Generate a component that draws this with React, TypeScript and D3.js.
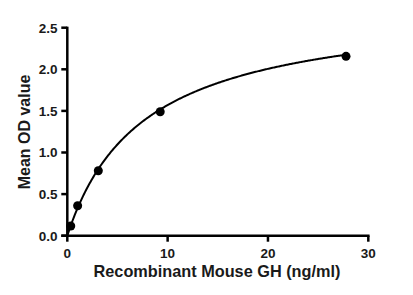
import React, { useMemo } from "react";
import * as d3 from "d3";

const concentrations = [0.343, 1.03, 3.09, 9.26, 27.78];
const meanOD = [0.117, 0.36, 0.78, 1.49, 2.156];
// points (used only to fit its parameters)
const curveReadX = [14.2, 20, 23.2];
const curveReadY = [1.84, 2.024, 2.072];
const xTicks = [0, 10, 20, 30];
const yTicks = [0, 0.5, 1.0, 1.5, 2.0, 2.5];
const xLabel = "Recombinant Mouse GH (ng/ml)";
const yLabel = "Mean OD value";

// 4PL-like fit (bottom fixed at 0) by grid search
function fitCurve() {
  const fx = concentrations.concat(curveReadX);
  const fy = meanOD.concat(curveReadY);
  let best = { b: 1, c: 8, d: 2.8, err: Infinity };
  for (let b = 0.8; b <= 1.6; b += 0.01) {
    for (let c = 3; c <= 15; c += 0.05) {
      for (let d = 2.2; d <= 3.6; d += 0.01) {
        let err = 0;
        for (let i = 0; i < fx.length; i++) {
          const p = Math.pow(fx[i] / c, b);
          const y = (d * p) / (1 + p);
          err += (y - fy[i]) ** 2;
        }
        if (err < best.err) best = { b, c, d, err };
      }
    }
  }
  return best;
}

export default function App() {
  const W = 413, H = 295;
  const x = d3.scaleLinear().domain([0, 30]).range([67.3, 368.3]);
  const y = d3.scaleLinear().domain([0, 2.5]).range([235.7, 27.7]);
  const fit = useMemo(fitCurve, []);
  const f = (v: number) => {
    const p = Math.pow(v / fit.c, fit.b);
    return (fit.d * p) / (1 + p);
  };
  const xs = d3.range(0, 300).map((i) => (i / 299) * concentrations[concentrations.length - 1]);
  const line = d3
    .line<number>()
    .x((v) => x(v))
    .y((v) => y(f(v)));
  const font = "'Liberation Sans', Arial, sans-serif";
  return (
    <svg width={W} height={H} style={{ position: "absolute", left: 0, top: 0, background: "#fff" }}>
      <rect width={W} height={H} fill="#fff" />
      <path d={line(xs) || ""} fill="none" stroke="#000" strokeWidth={2} />
      {concentrations.map((c, i) => (
        <circle key={i} cx={x(c)} cy={y(meanOD[i])} r={4.5} fill="#000" />
      ))}
      {/* Y axis */}
      <line x1={x(0)} x2={x(0)} y1={y(0) + 1.25} y2={y(2.5) - 1} stroke="#000" strokeWidth={2.5} />
      {yTicks.map((t) => (
        <g key={t}>
          <line x1={x(0) - 6} x2={x(0)} y1={y(t)} y2={y(t)} stroke="#000" strokeWidth={2.5} />
          <text
            x={57.5}
            y={y(t)}
            dy="0.36em"
            textAnchor="end"
            fontFamily={font}
            fontWeight="bold"
            fontSize={13.5}
            fill="#1a1a1a"
          >
            {t.toFixed(1)}
          </text>
        </g>
      ))}
      {/* X axis */}
      <line x1={x(0) - 6} x2={x(30) + 1.25} y1={y(0)} y2={y(0)} stroke="#000" strokeWidth={2.5} />
      {xTicks.map((t) => (
        <g key={t}>
          <line x1={x(t)} x2={x(t)} y1={y(0)} y2={y(0) + 6} stroke="#000" strokeWidth={2.5} />
          <text
            x={x(t)}
            y={257.5}
            textAnchor="middle"
            fontFamily={font}
            fontWeight="bold"
            fontSize={13.5}
            fill="#1a1a1a"
          >
            {t}
          </text>
        </g>
      ))}
      <text
        x={217}
        y={277}
        textAnchor="middle"
        fontFamily={font}
        fontWeight="bold"
        fontSize={16.3}
        fill="#1a1a1a"
      >
        {xLabel}
      </text>
      <text
        transform={`translate(30,132) rotate(-90)`}
        textAnchor="middle"
        fontFamily={font}
        fontWeight="bold"
        fontSize={16}
        fill="#1a1a1a"
      >
        {yLabel}
      </text>
    </svg>
  );
}
